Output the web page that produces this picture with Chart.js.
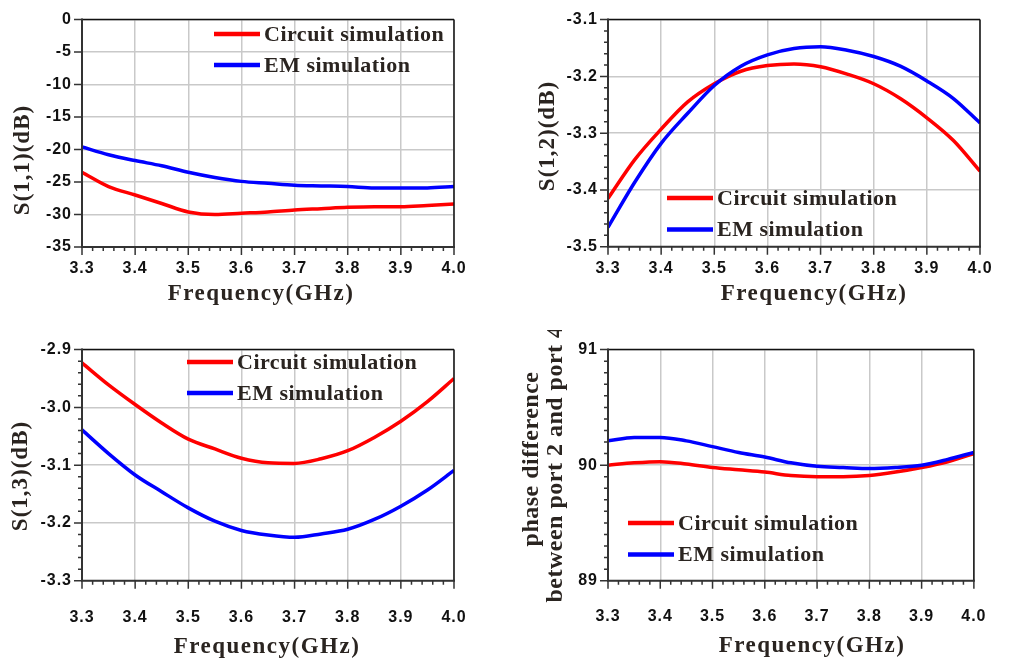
<!DOCTYPE html>
<html>
<head>
<meta charset="utf-8">
<script src="https://cdn.jsdelivr.net/npm/chart.js@4.4.1/dist/chart.umd.min.js"></script>
<style>
  html, body { margin: 0; padding: 0; background: #ffffff; }
  body { width: 1011px; height: 666px; position: relative; overflow: hidden; }
  canvas { position: absolute; display: block; }
</style>
</head>
<body>
<canvas id="s11" width="505" height="330" style="left:0;top:0"></canvas>
<canvas id="s12" width="506" height="330" style="left:505px;top:0"></canvas>
<canvas id="s13" width="505" height="336" style="left:0;top:330px"></canvas>
<canvas id="phase" width="506" height="336" style="left:505px;top:330px"></canvas>
<script>
// Frequency sweep (GHz) shared by all four panels
const freqGHz = [3.30, 3.35, 3.40, 3.45, 3.50, 3.55, 3.60, 3.65, 3.70, 3.75, 3.80, 3.85, 3.90, 3.95, 4.00];

// S(1,1) in dB
const s11Circuit = [-23.5, -25.7, -27.0, -28.3, -29.6, -30.0, -29.8, -29.6, -29.3, -29.1, -28.9, -28.8, -28.8, -28.6, -28.4];
const s11EM      = [-19.6, -20.8, -21.7, -22.5, -23.5, -24.3, -24.9, -25.2, -25.5, -25.6, -25.7, -25.9, -25.9, -25.9, -25.7];

// S(1,2) in dB
const s12Circuit = [-3.415, -3.347, -3.293, -3.245, -3.213, -3.191, -3.181, -3.178, -3.183, -3.196, -3.213, -3.239, -3.273, -3.313, -3.367];
const s12EM      = [-3.466, -3.387, -3.318, -3.265, -3.216, -3.182, -3.162, -3.151, -3.148, -3.154, -3.165, -3.182, -3.208, -3.239, -3.282];

// S(1,3) in dB
const s13Circuit = [-2.923, -2.961, -2.995, -3.027, -3.055, -3.072, -3.088, -3.096, -3.097, -3.089, -3.075, -3.052, -3.024, -2.990, -2.950];
const s13EM      = [-3.039, -3.080, -3.117, -3.146, -3.174, -3.197, -3.213, -3.221, -3.225, -3.219, -3.211, -3.194, -3.171, -3.143, -3.109];

// Phase difference between port 2 and port 4 (degrees)
const phaseCircuit = [90.00, 90.02, 90.03, 90.01, 89.98, 89.96, 89.94, 89.91, 89.90, 89.90, 89.91, 89.94, 89.98, 90.03, 90.10];
const phaseEM      = [90.21, 90.24, 90.24, 90.21, 90.16, 90.11, 90.07, 90.02, 89.99, 89.98, 89.97, 89.98, 90.00, 90.05, 90.11];

// Tick values
const xTickValues     = [3.3, 3.4, 3.5, 3.6, 3.7, 3.8, 3.9, 4.0];
const s11TickValues   = [-35, -30, -25, -20, -15, -10, -5, 0];
const s12TickValues   = [-3.5, -3.4, -3.3, -3.2, -3.1];
const s13TickValues   = [-3.3, -3.2, -3.1, -3.0, -2.9];
const phaseTickValues = [89, 90, 91];

const seriesNames = ['Circuit simulation', 'EM simulation'];
const seriesColors = ['#ff0000', '#0000ff'];

const SANS = '"Liberation Sans", Arial, sans-serif';
const SERIF = '"Liberation Serif", "Times New Roman", serif';
const TITLE_COLOR = '#2a2420';
const AXIS_COLOR = '#333333';

// Draws the plot frame, major/minor tick marks, the in-plot legend and axis titles
const paperFrame = {
  id: 'paperFrame',
  beforeDraw(chart) {
    chart.ctx.letterSpacing = '1px';
  },
  afterDraw(chart, args, o) {
    const { ctx, chartArea: a, scales: { x, y } } = chart;
    ctx.save();

    // frame
    ctx.strokeStyle = '#111111';
    ctx.lineWidth = 1.5;
    ctx.beginPath();
    ctx.moveTo(a.left, a.top); ctx.lineTo(a.right, a.top);
    ctx.moveTo(a.right, a.top); ctx.lineTo(a.right, a.bottom);
    ctx.stroke();
    ctx.strokeStyle = AXIS_COLOR;
    ctx.lineWidth = 2;
    ctx.beginPath();
    ctx.moveTo(a.left, a.top - 1); ctx.lineTo(a.left, a.bottom);
    ctx.lineTo(a.right + 1, a.bottom);
    ctx.stroke();

    // tick marks (outward)
    ctx.lineWidth = 1.5;
    ctx.strokeStyle = AXIS_COLOR;
    const tickRun = (scale, minor, perMajor, draw) => {
      const n = Math.round((scale.max - scale.min) / minor);
      for (let i = 0; i <= n; i++) {
        const p = scale.getPixelForValue(scale.min + i * minor);
        draw(p, i % perMajor === 0 ? 8 : 4);
      }
    };
    ctx.beginPath();
    tickRun(x, o.xMinor, o.xPerMajor, (p, len) => { ctx.moveTo(p, a.bottom); ctx.lineTo(p, a.bottom + len); });
    tickRun(y, o.yMinor, o.yPerMajor, (p, len) => { ctx.moveTo(a.left, p); ctx.lineTo(a.left - len, p); });
    ctx.stroke();

    // legend inside the plot
    ctx.font = 'bold 22px ' + SERIF;
    ctx.letterSpacing = '0.5px';
    ctx.textBaseline = 'middle';
    ctx.textAlign = 'left';
    chart.data.datasets.forEach((ds, i) => {
      const ly = o.legend.y + i * o.legend.gap;
      ctx.strokeStyle = ds.borderColor;
      ctx.lineWidth = 4.5;
      ctx.beginPath();
      ctx.moveTo(o.legend.x, ly);
      ctx.lineTo(o.legend.x + 46, ly);
      ctx.stroke();
      ctx.fillStyle = TITLE_COLOR;
      ctx.fillText(ds.label, o.legend.x + 50, ly + 1);
    });

    // x title
    ctx.font = 'bold 23px ' + SERIF;
    ctx.letterSpacing = '1.5px';
    ctx.textAlign = 'center';
    ctx.fillStyle = TITLE_COLOR;
    ctx.fillText(o.xTitle.text, o.xTitle.cx, o.xTitle.cy);

    // y title (rotated)
    ctx.font = 'bold ' + o.yTitle.size + 'px ' + SERIF;
    ctx.letterSpacing = o.yTitle.spacing;
    o.yTitle.lines.forEach((line, i) => {
      ctx.save();
      ctx.translate(o.yTitle.cx[i], o.yTitle.cy[i]);
      ctx.rotate(-Math.PI / 2);
      ctx.fillText(line, 0, 0);
      ctx.restore();
    });

    ctx.restore();
  }
};

function panel(id, cfg) {
  const canvas = document.getElementById(id);
  const W = canvas.width, H = canvas.height;
  const a = cfg.area;
  const series = [cfg.circuit, cfg.em];
  return new Chart(canvas, {
    type: 'line',
    data: {
      datasets: series.map((vals, k) => ({
        label: seriesNames[k],
        data: freqGHz.map((f, i) => ({ x: f, y: vals[i] })),
        borderColor: seriesColors[k],
        backgroundColor: seriesColors[k],
        borderWidth: 3.5,
        pointRadius: 0,
        cubicInterpolationMode: 'monotone',
        fill: false,
        order: k === 1 ? 0 : 1
      }))
    },
    options: {
      responsive: false,
      animation: false,
      events: [],
      layout: { padding: { left: 0, top: a.top, right: W - a.right, bottom: 0 } },
      plugins: {
        legend: { display: false },
        tooltip: { enabled: false },
        paperFrame: cfg.frame
      },
      scales: {
        x: {
          type: 'linear',
          min: 3.3,
          max: 4.0,
          afterBuildTicks: s => { s.ticks = xTickValues.map(v => ({ value: v })); },
          afterFit: s => { s.height = H - a.bottom; },
          ticks: {
            autoSkip: false,
            maxRotation: 0,
            padding: cfg.xLabelPad,
            color: '#111111',
            font: { family: SANS, weight: 'bold', size: 16 },
            callback: v => Number(v).toFixed(1)
          },
          grid: { color: '#c9c9c9', lineWidth: 1.5, drawTicks: false },
          border: { display: false }
        },
        y: {
          type: 'linear',
          min: cfg.yMin,
          max: cfg.yMax,
          afterBuildTicks: s => { s.ticks = cfg.yTicks.map(v => ({ value: v })); },
          afterFit: s => { s.width = a.left; },
          ticks: {
            autoSkip: false,
            padding: 10,
            color: '#111111',
            font: { family: SANS, weight: 'bold', size: 16 },
            callback: v => Number(v).toFixed(cfg.yDecimals)
          },
          grid: { color: '#c9c9c9', lineWidth: 1.5, drawTicks: false },
          border: { display: false }
        }
      }
    },
    plugins: [paperFrame]
  });
}

panel('s11', {
  area: { left: 82, right: 454, top: 12.5, bottom: 247 },
  circuit: s11Circuit, em: s11EM,
  yMin: -35, yMax: 0, yTicks: s11TickValues, yDecimals: 0,
  xLabelPad: 12,
  frame: {
    xMinor: 0.02, xPerMajor: 5, yMinor: 5, yPerMajor: 1,
    legend: { x: 214, y: 34, gap: 31 },
    xTitle: { text: 'Frequency(GHz)', cx: 261, cy: 294 },
    yTitle: { lines: ['S(1,1)(dB)'], cx: [23], cy: [160], size: 23, spacing: '1px' }
  }
});

panel('s12', {
  area: { left: 103, right: 475, top: 11.7, bottom: 246.7 },
  circuit: s12Circuit, em: s12EM,
  yMin: -3.5, yMax: -3.1, yTicks: s12TickValues, yDecimals: 1,
  xLabelPad: 12,
  frame: {
    xMinor: 0.02, xPerMajor: 5, yMinor: 0.02, yPerMajor: 5,
    legend: { x: 162, y: 198, gap: 31.5 },
    xTitle: { text: 'Frequency(GHz)', cx: 309, cy: 294 },
    yTitle: { lines: ['S(1,2)(dB)'], cx: [43], cy: [136], size: 23, spacing: '1px' }
  }
});

panel('s13', {
  area: { left: 82, right: 454, top: 15.7, bottom: 250.7 },
  circuit: s13Circuit, em: s13EM,
  yMin: -3.3, yMax: -2.9, yTicks: s13TickValues, yDecimals: 1,
  xLabelPad: 27,
  frame: {
    xMinor: 0.02, xPerMajor: 5, yMinor: 0.02, yPerMajor: 5,
    legend: { x: 187, y: 32, gap: 31 },
    xTitle: { text: 'Frequency(GHz)', cx: 267, cy: 317 },
    yTitle: { lines: ['S(1,3)(dB)'], cx: [21], cy: [146], size: 23, spacing: '1px' }
  }
});

panel('phase', {
  area: { left: 103, right: 475, top: 15.7, bottom: 250.7 },
  circuit: phaseCircuit, em: phaseEM,
  yMin: 89, yMax: 91, yTicks: phaseTickValues, yDecimals: 0,
  xLabelPad: 26,
  frame: {
    xMinor: 0.02, xPerMajor: 5, yMinor: 0.1, yPerMajor: 10,
    legend: { x: 123, y: 193, gap: 31.5 },
    xTitle: { text: 'Frequency(GHz)', cx: 307, cy: 316 },
    yTitle: { lines: ['phase difference', 'between port 2 and port 4'], cx: [27, 51], cy: [129, 134], size: 24, spacing: '0.5px' }
  }
});
</script>
</body>
</html>
